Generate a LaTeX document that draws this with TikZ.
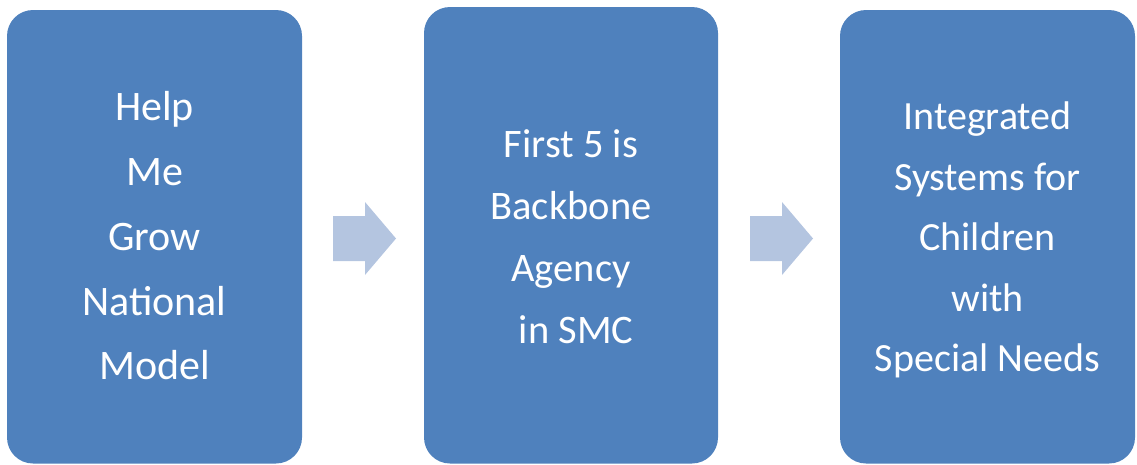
\documentclass[tikz,border=0pt]{standalone}
\usepackage{fontspec}
\setmainfont{Carlito}
\definecolor{boxblue}{HTML}{4F81BD}
\definecolor{arrowblue}{HTML}{B4C5E0}
\begin{document}
\begin{tikzpicture}[x=1pt,y=-1pt,
  box/.style={fill=boxblue, rounded corners=26pt, inner sep=0pt},
  boxtext/.style={text=white, align=center, inner sep=0pt},
  blockarrow/.style={fill=arrowblue}]
\useasboundingbox (0,0) rectangle (1137,464);
\node[box, minimum width=295pt, minimum height=453.5pt] (b1) at (154.5,236.75) {};
\node[box, minimum width=294pt, minimum height=456.5pt] (b2) at (571,235.25) {};
\node[box, minimum width=295pt, minimum height=453.5pt] (b3) at (987.5,236.75) {};
\node[boxtext, font=\fontsize{42}{64.75}\selectfont] (t1) at (154.5,236) {Help\\Me\\Grow\\National\\Model};
\node[boxtext, font=\fontsize{40.5}{62}\selectfont] (t2) at (571,236.5) {First 5 is\\Backbone\\Agency\\\hspace*{0.25em}in SMC};
\node[boxtext, font=\fontsize{40}{60.5}\selectfont] (t3) at (987.5,240) {Integrated\\Systems for\\Children\\with\\Special Needs};
\fill[blockarrow] (333,216) -- (365,216) -- (365,202) -- (396,238.5) -- (365,275) -- (365,261) -- (333,261) -- cycle;
\fill[blockarrow] (750,216) -- (782,216) -- (782,202) -- (813,238.5) -- (782,275) -- (782,261) -- (750,261) -- cycle;
\end{tikzpicture}
\end{document}
